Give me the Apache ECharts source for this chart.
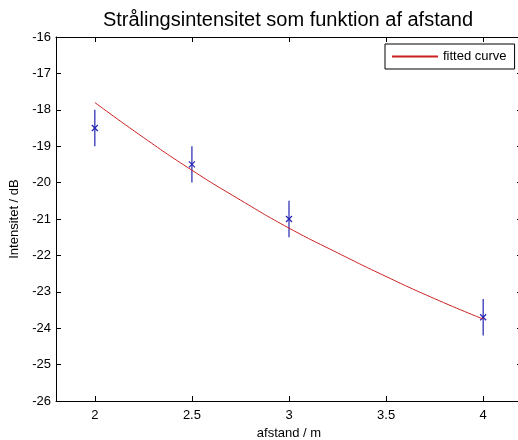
<!DOCTYPE html>
<html>
<head>
<meta charset="utf-8">
<script src="https://cdn.jsdelivr.net/npm/echarts@6/dist/echarts.min.js"></script>
<style>
html, body { margin: 0; padding: 0; background: #fff; }
#main { width: 518px; height: 440px; }
</style>
</head>
<body>
<div id="main"></div>
<script>
// maalinger
var afstand = [2, 2.5, 3, 4];
var intensitet = [-18.5, -19.5, -21, -23.7];
var fejl = [0.5, 0.5, 0.5, 0.5];

// fittet kurve aflaest fra billedet
var kurveX = [2, 2.25, 2.5, 2.75, 3, 3.25, 3.5, 3.75, 4];
var kurveY = [-17.80, -18.76, -19.66, -20.48, -21.25, -21.93, -22.58, -23.19, -23.75];

var xTicks = [2, 2.5, 3, 3.5, 4];

var blaa = '#2323b0';
var roed = '#cc2020';
var fontNavn = 'Liberation Sans, Arial, sans-serif';

var myChart = echarts.init(document.getElementById('main'));

var maaleData = afstand.map(function (x, i) { return [x, intensitet[i], fejl[i]]; });
var kurveData = kurveX.map(function (x, i) { return [x, kurveY[i]]; });

var option = {
    backgroundColor: '#fff',
    animation: false,
    title: {
        text: 'Strålingsintensitet som funktion af afstand',
        left: 283,
        textAlign: 'center',
        top: 5,
        textStyle: { fontFamily: fontNavn, fontSize: 20, fontWeight: 'normal', color: '#000' }
    },
    legend: {
        data: [{ name: 'fitted curve', icon: 'path://M0,0L100,0L100,4L0,4Z' }],
        left: 385,
        top: 44,
        itemWidth: 46,
        itemHeight: 2,
        itemGap: 4,
        padding: [6, 8, 6, 7],
        borderColor: '#000',
        borderWidth: 1,
        textStyle: { fontFamily: fontNavn, fontSize: 13, color: '#000' }
    },
    grid: { left: 56, top: 37, width: 466, height: 364, outerBoundsMode: 'none', containLabel: false },
    xAxis: [{
        type: 'value',
        min: 1.8, max: 4.2,
        name: 'afstand / m',
        nameLocation: 'middle',
        nameGap: 25,
        nameTextStyle: { fontFamily: fontNavn, fontSize: 13, color: '#000' },
        axisLine: { onZero: false, lineStyle: { color: '#000', width: 1 } },
        axisTick: { inside: true, length: 5, lineStyle: { color: '#000' }, customValues: xTicks },
        axisLabel: { fontFamily: fontNavn, fontSize: 13, color: '#000', margin: 8, customValues: xTicks },
        splitLine: { show: false }
    }, {
        type: 'value',
        position: 'top',
        min: 1.8, max: 4.2,
        axisLine: { onZero: false, lineStyle: { color: '#000', width: 1 } },
        axisTick: { inside: true, length: 5, lineStyle: { color: '#000' }, customValues: xTicks },
        axisLabel: { show: false },
        splitLine: { show: false }
    }],
    yAxis: [{
        type: 'value',
        min: -26, max: -16,
        interval: 1,
        name: 'Intensitet / dB',
        nameLocation: 'middle',
        nameGap: 32,
        nameTextStyle: { fontFamily: fontNavn, fontSize: 13, color: '#000' },
        axisLine: { show: true, onZero: false, lineStyle: { color: '#000', width: 1 } },
        axisTick: { show: true, inside: true, length: 5, lineStyle: { color: '#000' } },
        axisLabel: { fontFamily: fontNavn, fontSize: 13, color: '#000', margin: 5 },
        splitLine: { show: false }
    }, {
        type: 'value',
        position: 'right',
        min: -26, max: -16,
        interval: 1,
        axisLine: { show: true, onZero: false, lineStyle: { color: '#000', width: 1 } },
        axisTick: { show: true, inside: true, length: 5, lineStyle: { color: '#000' } },
        axisLabel: { show: false },
        splitLine: { show: false }
    }],
    series: [{
        name: 'fitted curve',
        type: 'line',
        data: kurveData,
        smooth: true,
        showSymbol: false,
        color: roed,
        lineStyle: { color: roed, width: 1 }
    }, {
        name: 'maalinger',
        type: 'custom',
        data: maaleData,
        renderItem: function (params, api) {
            var x = api.value(0), y = api.value(1), e = api.value(2);
            var top = api.coord([x, y + e]);
            var bund = api.coord([x, y - e]);
            var p = api.coord([x, y]);
            var s = 3;
            var stil = { stroke: blaa, lineWidth: 1.2 };
            return {
                type: 'group',
                children: [
                    { type: 'line', shape: { x1: top[0], y1: top[1], x2: bund[0], y2: bund[1] }, style: stil },
                    { type: 'line', shape: { x1: p[0] - s, y1: p[1] - s, x2: p[0] + s, y2: p[1] + s }, style: stil },
                    { type: 'line', shape: { x1: p[0] - s, y1: p[1] + s, x2: p[0] + s, y2: p[1] - s }, style: stil }
                ]
            };
        }
    }]
};
myChart.setOption(option);
</script>
</body>
</html>
